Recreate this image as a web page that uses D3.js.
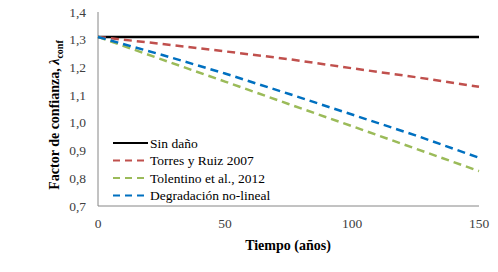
<!DOCTYPE html>
<html lang="es">
<head>
<meta charset="UTF-8">
<title>Factor de confianza</title>
<style>
    body { margin: 0; background: #fff; }
    svg, svg text { font-family: 'Liberation Serif', 'DejaVu Serif', serif; }
    .tick-label { font-size: 13.5px; fill: #404040; }
    .axis-title { font-size: 14px; font-weight: bold; fill: #000; }
    .legend-label { font-size: 13.5px; fill: #000; }
</style>
</head>
<body>
<svg width="498" height="272"></svg>
<script src="https://d3js.org/d3.v7.min.js"></script>
<script>
// data
const years = [0, 25, 50, 75, 100, 125, 150];
const sinDano = [1.31, 1.31, 1.31, 1.31, 1.31, 1.31, 1.31];
const torresRuiz = [1.31, 1.285, 1.258, 1.23, 1.197, 1.165, 1.13];
const tolentino = [1.31, 1.229, 1.149, 1.068, 0.988, 0.907, 0.826];
const noLineal = [1.31, 1.246, 1.178, 1.105, 1.03, 0.955, 0.874];

const seriesNames = ["Sin daño", "Torres y Ruiz 2007", "Tolentino et al., 2012", "Degradación no-lineal"];
const seriesColors = ["#000000", "#C0504D", "#9BBB59", "#0070C0"];
const seriesDash = [null, "8,5", "8,5", "8,5"];
const seriesValues = [sinDano, torresRuiz, tolentino, noLineal];

const xTicks = [0, 50, 100, 150];
const yTicks = [0.7, 0.8, 0.9, 1.0, 1.1, 1.2, 1.3, 1.4];

const svg = d3.select("svg")
    .attr("font-family", "'Liberation Serif', 'DejaVu Serif', serif");
const plotLeft = 98, plotRight = 479, plotTop = 12, plotBottom = 206;

const x = d3.scaleLinear().domain([0, 150]).range([plotLeft, plotRight]);
const y = d3.scaleLinear().domain([0.7, 1.4]).range([plotBottom, plotTop]);

// axes
svg.append("line")
    .attr("x1", plotLeft).attr("x2", plotLeft)
    .attr("y1", plotTop).attr("y2", plotBottom)
    .attr("stroke", "#868686").attr("stroke-width", 1);
svg.append("line")
    .attr("x1", plotLeft).attr("x2", plotRight)
    .attr("y1", plotBottom).attr("y2", plotBottom)
    .attr("stroke", "#868686").attr("stroke-width", 1);

svg.selectAll(".ylab")
    .data(yTicks)
    .enter().append("text")
    .attr("class", "tick-label")
    .attr("x", 86)
    .attr("y", d => y(d) + 4.5)
    .attr("text-anchor", "end")
    .text(d => d.toFixed(1).replace(".", ","));

svg.selectAll(".xlab")
    .data(xTicks)
    .enter().append("text")
    .attr("class", "tick-label")
    .attr("x", d => x(d))
    .attr("y", 228)
    .attr("text-anchor", "middle")
    .text(d => d);

// titles
svg.append("text")
    .attr("class", "axis-title")
    .attr("x", 288).attr("y", 250)
    .attr("text-anchor", "middle")
    .text("Tiempo (años)");

const yt = svg.append("text")
    .attr("class", "axis-title")
    .attr("transform", "translate(59,115) rotate(-90)")
    .attr("text-anchor", "middle");
yt.append("tspan").text("Factor de confianza, ");
yt.append("tspan").style("font-style", "italic").text("λ");
yt.append("tspan").attr("dy", 4).style("font-size", "10px").text("conf");

// lines
const line = d3.line()
    .x((d, i) => x(years[i]))
    .y(d => y(d));

seriesValues.forEach((vals, i) => {
    svg.append("path")
        .datum(vals)
        .attr("fill", "none")
        .attr("stroke", seriesColors[i])
        .attr("stroke-width", 2.5)
        .attr("stroke-dasharray", seriesDash[i])
        .attr("d", line);
});

// legend
const legend = svg.append("g");
seriesNames.forEach((name, i) => {
    const ly = 143 + i * 17.5;
    legend.append("line")
        .attr("x1", 113).attr("x2", 148)
        .attr("y1", ly).attr("y2", ly)
        .attr("stroke", seriesColors[i])
        .attr("stroke-width", 2)
        .attr("stroke-dasharray", seriesDash[i] ? "7,5" : null);
    legend.append("text")
        .attr("class", "legend-label")
        .attr("x", 150).attr("y", ly + 4.5)
        .text(name);
});
</script>
</body>
</html>
